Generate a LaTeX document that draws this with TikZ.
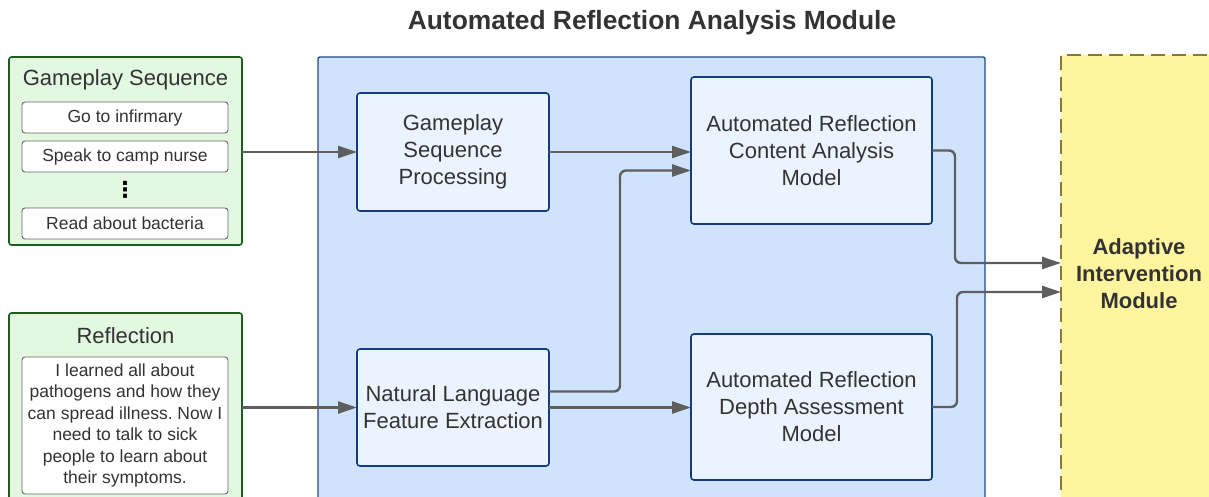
\documentclass[tikz,border=0pt]{standalone}
\usepackage{fontspec}
\setmainfont{Liberation Sans}
\newfontfamily\dotsfont{DejaVu Sans}
\usetikzlibrary{arrows.meta}
\definecolor{gsfill}{HTML}{E2F8E1}
\definecolor{gsline}{HTML}{1D5E20}
\definecolor{ramfill}{HTML}{CFE4FC}
\definecolor{ramline}{HTML}{1F4A80}
\definecolor{blkfill}{HTML}{EBF4FE}
\definecolor{blkline}{HTML}{123D7A}
\definecolor{aimfill}{HTML}{FFF59E}
\definecolor{aimline}{HTML}{8C7A2C}
\definecolor{wirecol}{HTML}{5E5E5E}
\definecolor{ink}{HTML}{333333}
\frenchspacing

\begin{document}
\begin{tikzpicture}[x=1pt, y=-1pt, inner sep=0pt, outer sep=0pt, text=ink,
    big/.style={font=\fontsize{22}{27}\selectfont, align=center},
    small/.style={font=\fontsize{17.5}{21.5}\selectfont, align=center},
    source/.style={draw=gsline, fill=gsfill, line width=1.6pt, rounded corners=2.5pt},
    entry/.style={small, draw=gray!80!black, fill=white, line width=0.9pt, rounded corners=3pt, minimum width=206pt, minimum height=31pt},
    block/.style={big, draw=blkline, fill=blkfill, line width=1.6pt, rounded corners=3pt},
    wire/.style={draw=wirecol, line width=2.4pt, rounded corners=6pt, -{Triangle[length=19pt,width=12pt]}}]
    \useasboundingbox (0,0) rectangle (1209,497);

    \node[font=\fontsize{26.4}{30}\selectfont\bfseries] (title) at (652,23) {Automated Reflection Analysis Module};

    % inputs
    \node[source, minimum width=233pt, minimum height=188pt] (gseq) at (125.5,151) {};
    \node[big] (gseqname) at (125.5,80) {Gameplay Sequence};
    \node[entry] (step1) at (125,117.5) {Go to infirmary};
    \node[entry] (step2) at (125,156.5) {Speak to camp nurse};
    \node[font=\dotsfont\bfseries\fontsize{22}{22}\selectfont, text=black] (stepdots) at (125,190) {⋮};
    \node[entry] (step3) at (125,223.5) {Read about bacteria};

    \node[source, minimum width=233pt, minimum height=227pt] (refl) at (125.5,426.5) {};
    \node[big] (reflname) at (125.5,336) {Reflection};
    \node[entry, minimum height=137pt] (refltext) at (125,425.5) {I learned all about\\pathogens and how they\\can spread illness. Now I\\need to talk to sick\\people to learn about\\their symptoms.};

    % analysis module
    \node[draw=ramline, fill=ramfill, line width=1.4pt, rounded corners=2pt, minimum width=667pt, minimum height=483pt] (ram) at (651.5,298.5) {};
    \node[block, minimum width=192pt, minimum height=118pt] (gsp) at (453,152) {Gameplay\\Sequence\\Processing};
    \node[block, minimum width=241pt, minimum height=147pt] (content) at (811.5,150.5) {Automated Reflection\\Content Analysis\\Model};
    \node[block, minimum width=192pt, minimum height=117pt] (nlfe) at (453,407.5) {Natural Language\\Feature Extraction};
    \node[block, minimum width=241pt, minimum height=146pt] (depth) at (811.5,407) {Automated Reflection\\Depth Assessment\\Model};

    % intervention module
    \node[draw=aimline, fill=aimfill, line width=1.6pt, dash pattern=on 14pt off 7pt, minimum width=156pt, minimum height=485pt] (aim) at (1139,297.5) {};
    \node[big, font=\fontsize{22}{27}\selectfont\bfseries] (aimname) at (1139,274) {Adaptive\\Intervention\\Module};

    % connectors
    \draw[wire] (gseq.east |- gsp.west) -- (gsp.west);
    \draw[wire] (refl.east |- nlfe.west) -- (nlfe.west);
    \draw[wire] (gsp.east) -- (gsp.east -| content.west);
    \draw[wire] ([yshift=16pt]nlfe.east) -- ++(71,0) |- ([yshift=-20pt]content.west);
    \draw[wire] (nlfe.east) -- (nlfe.east -| depth.west);
    \draw[wire] (content.east) -- ++(23,0) |- ([yshift=34.5pt]aim.west);
    \draw[wire] (depth.east) -- ++(25,0) |- ([yshift=5.5pt]aim.west);
\end{tikzpicture}
\end{document}
